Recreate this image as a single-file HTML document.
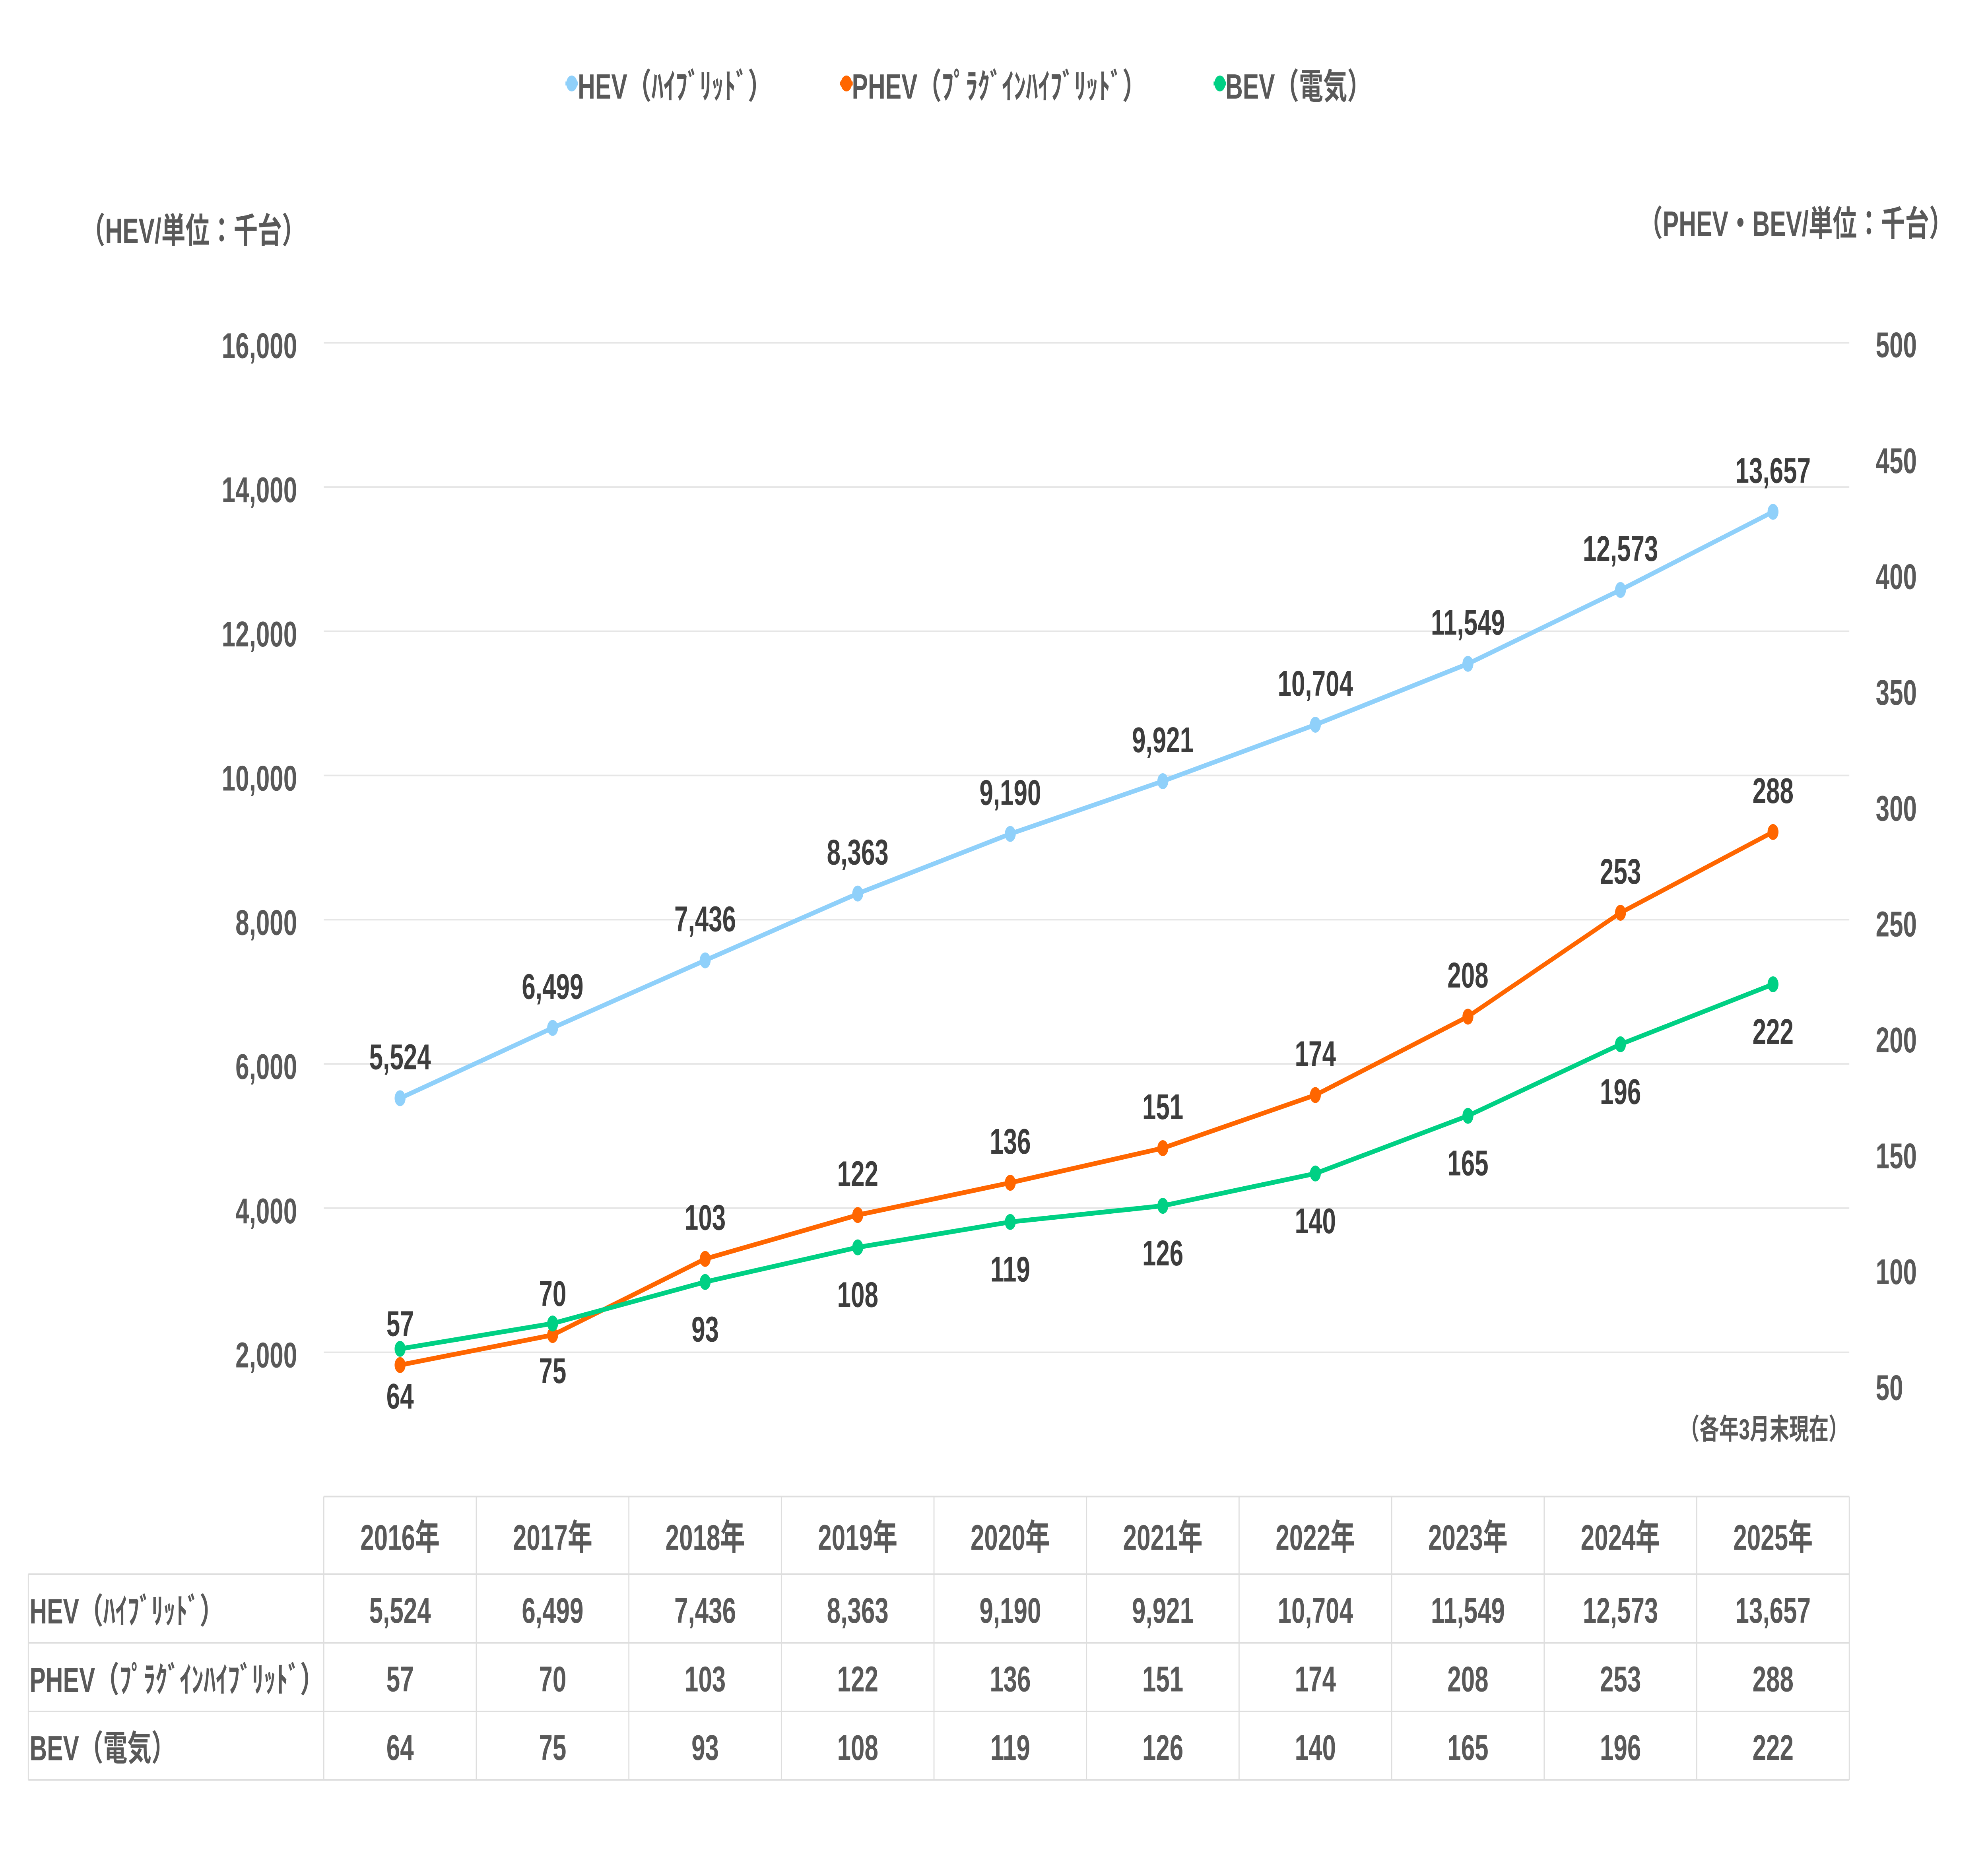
<!DOCTYPE html>
<html><head><meta charset="utf-8">
<style>
html,body{margin:0;padding:0;background:#fff;width:100%;height:100%;overflow:hidden;}
svg{display:block;width:100vw;height:100vh;}
text{font-family:"Liberation Sans","Noto Sans CJK JP",sans-serif;font-weight:bold;}
.t{fill:#595959;font-size:90px;}
.tt{fill:#595959;font-size:88px;}
.d{fill:#3d3d3d;font-size:90px;text-anchor:middle;}
.c{fill:#595959;font-size:90px;text-anchor:middle;}
.ra{text-anchor:end;}
</style></head>
<body>
<svg viewBox="0 0 7260 4656" preserveAspectRatio="none" xmlns="http://www.w3.org/2000/svg">
<rect x="0" y="0" width="7260" height="4656" fill="#fff"/>

<!-- Legend -->
<line x1="2065" y1="210" x2="2111" y2="210" stroke="#8fd0fa" stroke-width="10"/>
<circle cx="2088" cy="210" r="20" fill="#8fd0fa"/>
<text class="tt" x="2110" y="248">HEV（ﾊｲﾌﾞﾘｯﾄﾞ）</text>
<line x1="3068" y1="210" x2="3114" y2="210" stroke="#ff6600" stroke-width="10"/>
<circle cx="3091" cy="210" r="20" fill="#ff6600"/>
<text class="tt" x="3111" y="248">PHEV（ﾌﾟﾗｸﾞｲﾝﾊｲﾌﾞﾘｯﾄﾞ）</text>
<line x1="4432" y1="210" x2="4478" y2="210" stroke="#00d084" stroke-width="10"/>
<circle cx="4455" cy="210" r="20" fill="#00d084"/>
<text class="tt" x="4475" y="248">BEV（電気）</text>

<!-- Axis titles -->
<text class="tt" x="296" y="611">（HEV/単位：千台）</text>
<text class="tt" x="5984" y="593">（PHEV・BEV/単位：千台）</text>

<!-- Gridlines -->
<g stroke="#e6e6e6" stroke-width="4">
<line x1="1182.4" y1="862.4" x2="6753.5" y2="862.4"/>
<line x1="1182.4" y1="1225.15" x2="6753.5" y2="1225.15"/>
<line x1="1182.4" y1="1587.9" x2="6753.5" y2="1587.9"/>
<line x1="1182.4" y1="1950.65" x2="6753.5" y2="1950.65"/>
<line x1="1182.4" y1="2313.4" x2="6753.5" y2="2313.4"/>
<line x1="1182.4" y1="2676.15" x2="6753.5" y2="2676.15"/>
<line x1="1182.4" y1="3038.9" x2="6753.5" y2="3038.9"/>
<line x1="1182.4" y1="3401.65" x2="6753.5" y2="3401.65"/>
</g>

<!-- Left tick labels -->
<text class="t ra" x="1085" y="900.4">16,000</text>
<text class="t ra" x="1085" y="1263.2">14,000</text>
<text class="t ra" x="1085" y="1625.9">12,000</text>
<text class="t ra" x="1085" y="1988.7">10,000</text>
<text class="t ra" x="1085" y="2351.4">8,000</text>
<text class="t ra" x="1085" y="2714.2">6,000</text>
<text class="t ra" x="1085" y="3076.9">4,000</text>
<text class="t ra" x="1085" y="3439.7">2,000</text>

<!-- Right tick labels -->
<text class="t" x="6850" y="898.7">500</text>
<text class="t" x="6850" y="1190.1">450</text>
<text class="t" x="6850" y="1481.5">400</text>
<text class="t" x="6850" y="1772.9">350</text>
<text class="t" x="6850" y="2064.3">300</text>
<text class="t" x="6850" y="2355.7">250</text>
<text class="t" x="6850" y="2647.1">200</text>
<text class="t" x="6850" y="2938.5">150</text>
<text class="t" x="6850" y="3229.9">100</text>
<text class="t" x="6850" y="3521.3">50</text>

<!-- Note -->
<text x="6750" y="3620" style="fill:#595959;font-size:72px;text-anchor:end;">（各年3月末現在）</text>

<!-- Series -->
<polyline fill="none" stroke="#8fd0fa" stroke-width="12" stroke-linejoin="round" stroke-linecap="round"
 points="1461,2762.5 2018.1,2585.6 2575.2,2415.7 3132.3,2247.6 3689.4,2097.6 4246.5,1965.0 4803.6,1823.0 5360.7,1669.7 5917.8,1484.0 6474.9,1287.4"/>
<g fill="#8fd0fa">
<circle cx="1461" cy="2762.5" r="20"/><circle cx="2018.1" cy="2585.6" r="20"/><circle cx="2575.2" cy="2415.7" r="20"/><circle cx="3132.3" cy="2247.6" r="20"/><circle cx="3689.4" cy="2097.6" r="20"/><circle cx="4246.5" cy="1965.0" r="20"/><circle cx="4803.6" cy="1823.0" r="20"/><circle cx="5360.7" cy="1669.7" r="20"/><circle cx="5917.8" cy="1484.0" r="20"/><circle cx="6474.9" cy="1287.4" r="20"/>
</g>

<polyline fill="none" stroke="#ff6600" stroke-width="12" stroke-linejoin="round" stroke-linecap="round"
 points="1461,3433.6 2018.1,3358.1 2575.2,3166.6 3132.3,3056.3 3689.4,2975.1 4246.5,2888.0 4803.6,2754.5 5360.7,2557.2 5917.8,2296.0 6474.9,2092.8"/>
<g fill="#ff6600">
<circle cx="1461" cy="3433.6" r="20"/><circle cx="2018.1" cy="3358.1" r="20"/><circle cx="2575.2" cy="3166.6" r="20"/><circle cx="3132.3" cy="3056.3" r="20"/><circle cx="3689.4" cy="2975.1" r="20"/><circle cx="4246.5" cy="2888.0" r="20"/><circle cx="4803.6" cy="2754.5" r="20"/><circle cx="5360.7" cy="2557.2" r="20"/><circle cx="5917.8" cy="2296.0" r="20"/><circle cx="6474.9" cy="2092.8" r="20"/>
</g>

<polyline fill="none" stroke="#00d084" stroke-width="12" stroke-linejoin="round" stroke-linecap="round"
 points="1461,3392.9 2018.1,3329.1 2575.2,3224.6 3132.3,3137.6 3689.4,3073.7 4246.5,3033.1 4803.6,2951.8 5360.7,2806.7 5917.8,2626.8 6474.9,2475.9"/>
<g fill="#00d084">
<circle cx="1461" cy="3392.9" r="20"/><circle cx="2018.1" cy="3329.1" r="20"/><circle cx="2575.2" cy="3224.6" r="20"/><circle cx="3132.3" cy="3137.6" r="20"/><circle cx="3689.4" cy="3073.7" r="20"/><circle cx="4246.5" cy="3033.1" r="20"/><circle cx="4803.6" cy="2951.8" r="20"/><circle cx="5360.7" cy="2806.7" r="20"/><circle cx="5917.8" cy="2626.8" r="20"/><circle cx="6474.9" cy="2475.9" r="20"/>
</g>

<!-- HEV data labels -->
<text class="d" x="1461" y="2689.5">5,524</text>
<text class="d" x="2018.1" y="2512.6">6,499</text>
<text class="d" x="2575.2" y="2342.7">7,436</text>
<text class="d" x="3132.3" y="2174.6">8,363</text>
<text class="d" x="3689.4" y="2024.6">9,190</text>
<text class="d" x="4246.5" y="1892">9,921</text>
<text class="d" x="4803.6" y="1750">10,704</text>
<text class="d" x="5360.7" y="1596.7">11,549</text>
<text class="d" x="5917.8" y="1411">12,573</text>
<text class="d" x="6474.9" y="1214.4">13,657</text>

<!-- PHEV data labels -->
<text class="d" x="1461" y="3360.6">57</text>
<text class="d" x="2018.1" y="3285.1">70</text>
<text class="d" x="2575.2" y="3093.6">103</text>
<text class="d" x="3132.3" y="2983.3">122</text>
<text class="d" x="3689.4" y="2902.1">136</text>
<text class="d" x="4246.5" y="2815">151</text>
<text class="d" x="4803.6" y="2681.5">174</text>
<text class="d" x="5360.7" y="2484.2">208</text>
<text class="d" x="5917.8" y="2223">253</text>
<text class="d" x="6474.9" y="2019.8">288</text>

<!-- BEV data labels -->
<text class="d" x="1461" y="3542.9">64</text>
<text class="d" x="2018.1" y="3479.1">75</text>
<text class="d" x="2575.2" y="3374.6">93</text>
<text class="d" x="3132.3" y="3287.6">108</text>
<text class="d" x="3689.4" y="3223.7">119</text>
<text class="d" x="4246.5" y="3183.1">126</text>
<text class="d" x="4803.6" y="3101.8">140</text>
<text class="d" x="5360.7" y="2956.7">165</text>
<text class="d" x="5917.8" y="2776.8">196</text>
<text class="d" x="6474.9" y="2625.9">222</text>

<!-- Table lines -->
<g stroke="#dedede" stroke-width="4">
<line x1="1182.4" y1="3764.4" x2="6753.5" y2="3764.4"/>
<line x1="103.5" y1="3959.5" x2="6753.5" y2="3959.5"/>
<line x1="103.5" y1="4132.5" x2="6753.5" y2="4132.5"/>
<line x1="103.5" y1="4305" x2="6753.5" y2="4305"/>
<line x1="103.5" y1="4477" x2="6753.5" y2="4477"/>
<line x1="103.5" y1="3959.5" x2="103.5" y2="4477"/>
<line x1="1182.4" y1="3764.4" x2="1182.4" y2="4477"/>
<line x1="1739.5" y1="3764.4" x2="1739.5" y2="4477"/>
<line x1="2296.6" y1="3764.4" x2="2296.6" y2="4477"/>
<line x1="2853.7" y1="3764.4" x2="2853.7" y2="4477"/>
<line x1="3410.8" y1="3764.4" x2="3410.8" y2="4477"/>
<line x1="3967.9" y1="3764.4" x2="3967.9" y2="4477"/>
<line x1="4525" y1="3764.4" x2="4525" y2="4477"/>
<line x1="5082.1" y1="3764.4" x2="5082.1" y2="4477"/>
<line x1="5639.2" y1="3764.4" x2="5639.2" y2="4477"/>
<line x1="6196.3" y1="3764.4" x2="6196.3" y2="4477"/>
<line x1="6753.5" y1="3764.4" x2="6753.5" y2="4477"/>
</g>

<!-- Table header -->
<text class="c" x="1461" y="3898.7">2016年</text>
<text class="c" x="2018.1" y="3898.7">2017年</text>
<text class="c" x="2575.2" y="3898.7">2018年</text>
<text class="c" x="3132.3" y="3898.7">2019年</text>
<text class="c" x="3689.4" y="3898.7">2020年</text>
<text class="c" x="4246.5" y="3898.7">2021年</text>
<text class="c" x="4803.6" y="3898.7">2022年</text>
<text class="c" x="5360.7" y="3898.7">2023年</text>
<text class="c" x="5917.8" y="3898.7">2024年</text>
<text class="c" x="6474.9" y="3898.7">2025年</text>

<!-- Row labels -->
<text class="tt" x="108" y="4083.6">HEV（ﾊｲﾌﾞﾘｯﾄﾞ）</text>
<text class="tt" x="108" y="4256">PHEV（ﾌﾟﾗｸﾞｲﾝﾊｲﾌﾞﾘｯﾄﾞ）</text>
<text class="tt" x="108" y="4428">BEV（電気）</text>

<!-- HEV row -->
<text class="c" x="1461" y="4082">5,524</text>
<text class="c" x="2018.1" y="4082">6,499</text>
<text class="c" x="2575.2" y="4082">7,436</text>
<text class="c" x="3132.3" y="4082">8,363</text>
<text class="c" x="3689.4" y="4082">9,190</text>
<text class="c" x="4246.5" y="4082">9,921</text>
<text class="c" x="4803.6" y="4082">10,704</text>
<text class="c" x="5360.7" y="4082">11,549</text>
<text class="c" x="5917.8" y="4082">12,573</text>
<text class="c" x="6474.9" y="4082">13,657</text>

<!-- PHEV row -->
<text class="c" x="1461" y="4254.5">57</text>
<text class="c" x="2018.1" y="4254.5">70</text>
<text class="c" x="2575.2" y="4254.5">103</text>
<text class="c" x="3132.3" y="4254.5">122</text>
<text class="c" x="3689.4" y="4254.5">136</text>
<text class="c" x="4246.5" y="4254.5">151</text>
<text class="c" x="4803.6" y="4254.5">174</text>
<text class="c" x="5360.7" y="4254.5">208</text>
<text class="c" x="5917.8" y="4254.5">253</text>
<text class="c" x="6474.9" y="4254.5">288</text>

<!-- BEV row -->
<text class="c" x="1461" y="4427">64</text>
<text class="c" x="2018.1" y="4427">75</text>
<text class="c" x="2575.2" y="4427">93</text>
<text class="c" x="3132.3" y="4427">108</text>
<text class="c" x="3689.4" y="4427">119</text>
<text class="c" x="4246.5" y="4427">126</text>
<text class="c" x="4803.6" y="4427">140</text>
<text class="c" x="5360.7" y="4427">165</text>
<text class="c" x="5917.8" y="4427">196</text>
<text class="c" x="6474.9" y="4427">222</text>
</svg>
</body></html>
